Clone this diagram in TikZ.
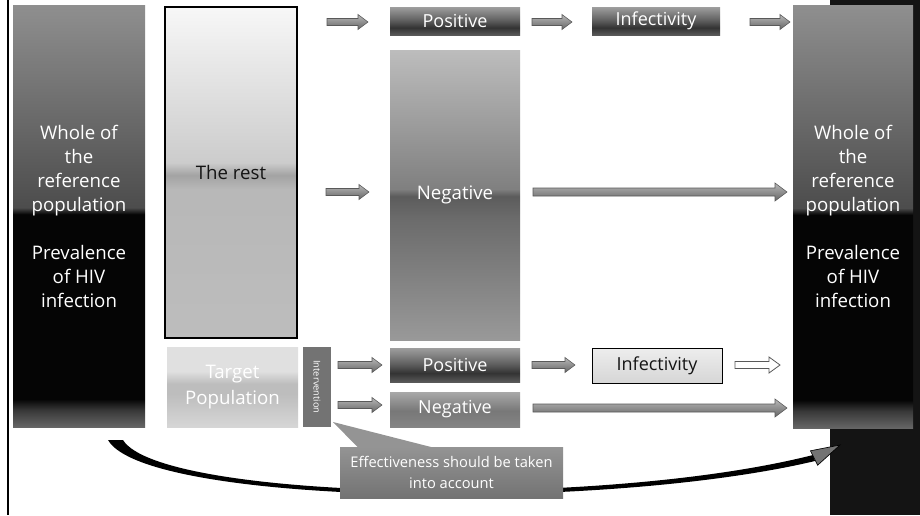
\documentclass[tikz,border=0pt]{standalone}
\usepackage{fontspec}
\setmainfont{Open Sans}
\usetikzlibrary{calc}

\definecolor{wBot}{gray}{0.40}
\definecolor{wBotIn}{gray}{0.22}
\definecolor{wBlack}{gray}{0.02}
\definecolor{wMid}{gray}{0.30}
\definecolor{wTop}{gray}{0.56}
\definecolor{rBot}{gray}{0.74}
\definecolor{rMidLow}{gray}{0.72}
\definecolor{rBand}{gray}{0.64}
\definecolor{rMidHigh}{gray}{0.80}
\definecolor{rTop}{gray}{0.97}
\definecolor{nBot}{gray}{0.60}
\definecolor{nLow}{gray}{0.42}
\definecolor{nBand}{gray}{0.36}
\definecolor{nHigh}{gray}{0.50}
\definecolor{nTop}{gray}{0.74}
\definecolor{pBot}{gray}{0.35}
\definecolor{pBand}{gray}{0.20}
\definecolor{pMid}{gray}{0.38}
\definecolor{pTop}{gray}{0.62}
\definecolor{sBot}{gray}{0.52}
\definecolor{sMid}{gray}{0.47}
\definecolor{sTop}{gray}{0.66}
\definecolor{iBot}{gray}{0.84}
\definecolor{iTop}{gray}{0.93}
\definecolor{tBot}{gray}{0.84}
\definecolor{tBand}{gray}{0.74}
\definecolor{tTop}{gray}{0.88}
\definecolor{intervFill}{gray}{0.45}
\definecolor{callTop}{gray}{0.58}
\definecolor{callBot}{gray}{0.45}
\definecolor{arrTop}{gray}{0.72}
\definecolor{arrBot}{gray}{0.40}
\definecolor{arrEdge}{gray}{0.35}
\definecolor{stripFill}{gray}{0.08}
\definecolor{darkText}{gray}{0.08}

\pgfdeclareverticalshading{wholeshade}{100bp}{color(0bp)=(wBot); color(25bp)=(wBot); color(27bp)=(wBotIn); color(28.3bp)=(wBlack); color(50.2bp)=(wBlack); color(51bp)=(wMid); color(75bp)=(wTop); color(100bp)=(wTop)}
\pgfdeclareverticalshading{restshade}{100bp}{color(0bp)=(rBot); color(25bp)=(rBot); color(47.5bp)=(rMidLow); color(49.6bp)=(rBand); color(51.5bp)=(rMidHigh); color(75bp)=(rTop); color(100bp)=(rTop)}
\pgfdeclareverticalshading{negshade}{100bp}{color(0bp)=(nBot); color(25bp)=(nBot); color(46bp)=(nLow); color(49.8bp)=(nBand); color(51bp)=(nHigh); color(75bp)=(nTop); color(100bp)=(nTop)}
\pgfdeclareverticalshading{posshade}{100bp}{color(0bp)=(pBot); color(25bp)=(pBot); color(38bp)=(pBand); color(52bp)=(pMid); color(75bp)=(pTop); color(100bp)=(pTop)}
\pgfdeclareverticalshading{smallnegshade}{100bp}{color(0bp)=(sBot); color(25bp)=(sBot); color(48bp)=(sMid); color(75bp)=(sTop); color(100bp)=(sTop)}
\pgfdeclareverticalshading{infshade}{100bp}{color(0bp)=(iBot); color(25bp)=(iBot); color(75bp)=(iTop); color(100bp)=(iTop)}
\pgfdeclareverticalshading{targetshade}{100bp}{color(0bp)=(tBot); color(25bp)=(tBot); color(46bp)=(tBand); color(52bp)=(tBand); color(60bp)=(tTop); color(75bp)=(tTop); color(100bp)=(tTop)}

\tikzset{
  boxbase/.style={inner sep=0pt, outer sep=0pt, align=center},
  span/.style n args={4}{minimum width={(#3-#1)*0.75pt}, minimum height={(#4-#2)*0.75pt}, at={({(#1+#3)/2},{(#2+#4)/2})}},
  bigtext/.style={font=\fontsize{14}{18}\selectfont},
  labtext/.style={font=\fontsize{13.5}{16}\selectfont},
  arrowstyle/.style={top color=arrTop, bottom color=arrBot, draw=arrEdge, line width=0.4pt},
  pics/blockarrow/.style={code={
    \path[arrowstyle] (0,-3.5) -- (#1-10,-3.5) -- (#1-10,-7.5) -- (#1,0) -- (#1-10,7.5) -- (#1-10,3.5) -- (0,3.5) -- cycle;}},
  pics/longarrow/.style={code={
    \path[arrowstyle] (0,-4) -- (#1-12,-4) -- (#1-12,-9) -- (#1,0) -- (#1-12,9) -- (#1-12,4) -- (0,4) -- cycle;}},
  pics/hollowarrow/.style={code={
    \path[draw=arrEdge, fill=white, line width=0.6pt] (0,-3.5) -- (#1-11,-3.5) -- (#1-11,-8) -- (#1,0) -- (#1-11,8) -- (#1-11,3.5) -- (0,3.5) -- cycle;}},
}

\begin{document}
\begin{tikzpicture}[x=0.75pt,y=-0.75pt]
\useasboundingbox (0,0) rectangle (920,515);
\fill[white] (0,0) rectangle (920,515);
% right dark strip and left rule
\fill[stripFill] (830,0) rectangle (920,515);
\draw[black, line width=2pt] (8,0) -- (8,515);

% big columns
\node[boxbase, span={13}{5}{145}{427}, shade, shading=wholeshade, text=white, bigtext] (wholeL)
  {Whole of\\the\\reference\\population\\[18pt]Prevalence\\of HIV\\infection};
\node[boxbase, span={793}{5}{913}{428}, shade, shading=wholeshade, text=white, bigtext] (wholeR)
  {Whole of\\the\\reference\\population\\[18pt]Prevalence\\of HIV\\infection};

\node[boxbase, span={165}{7}{297}{338}, shade, shading=restshade, draw=black, line width=0.8pt, text=darkText, bigtext] (rest) {The rest};

\node[boxbase, span={390}{50}{520}{340}, shade, shading=negshade, text=white, bigtext] (negbig) {Negative};

\node[boxbase, span={390}{7}{520}{35}, shade, shading=posshade, text=white, labtext] (postop) {Positive};
\node[boxbase, span={592}{7}{720}{35}, shade, shading=posshade, text=white, labtext] (inftop) {Infectivity};

\node[boxbase, span={390}{348}{520}{382}, shade, shading=posshade, text=white, labtext] (posbot) {Positive};
\node[boxbase, span={390}{392}{520}{427}, shade, shading=smallnegshade, text=white, labtext] (negbot) {Negative};
\node[boxbase, span={592}{348}{722}{383}, shade, shading=infshade, draw=black, line width=0.6pt, text=darkText, labtext] (infbot) {Infectivity};

\node[boxbase, span={167}{347}{298}{427}, shade, shading=targetshade, text=white, font=\fontsize{14}{19}\selectfont] (target) {Target\\Population};
\node[boxbase, span={303}{347}{331}{427}, fill=intervFill] (interv) {};
\node[rotate=-90, text=white, font=\fontsize{7}{8}\selectfont, inner sep=0pt] (intervlab) at (interv.center) {Intervention};

% block arrows
\pic (a1) at (327,22) {blockarrow=41};
\pic (a2) at (532,22) {blockarrow=40};
\pic (a3) at (750,22) {blockarrow=40};
\pic (a4) at (326,192) {blockarrow=43};
\pic (l1) at (533,192) {longarrow=254};
\pic (a5) at (338,365) {blockarrow=44};
\pic (a6) at (532,365) {blockarrow=43};
\pic (h1) at (735,365) {hollowarrow=45};
\pic (a7) at (338,405) {blockarrow=44};
\pic (l2) at (533,408) {longarrow=254};

% curved arrow under the diagram
\coordinate (cstart) at (115,440);
\coordinate (cend) at (840,445);
\fill[black] (108,440) .. controls (145,505) and (600,512) .. (815,461)
  -- (813,455) .. controls (600,509) and (160,500) .. (123,440) -- cycle;
\path[fill=callBot, draw=black, line width=0.5pt] (cend) -- (817.6,465.2) -- (810.4,450.8) -- cycle;

% callout
\node[boxbase, span={340}{447}{563}{498}, top color=callTop, bottom color=callBot, text=white, font=\fontsize{11}{16}\selectfont] (eff)
  {Effectiveness should be taken\\into account};
\fill[callTop] ($(eff.north west)+(18,0.5)$) -- (333,422) -- ($(eff.north west)+(93,0.5)$) -- cycle;
\end{tikzpicture}
\end{document}
